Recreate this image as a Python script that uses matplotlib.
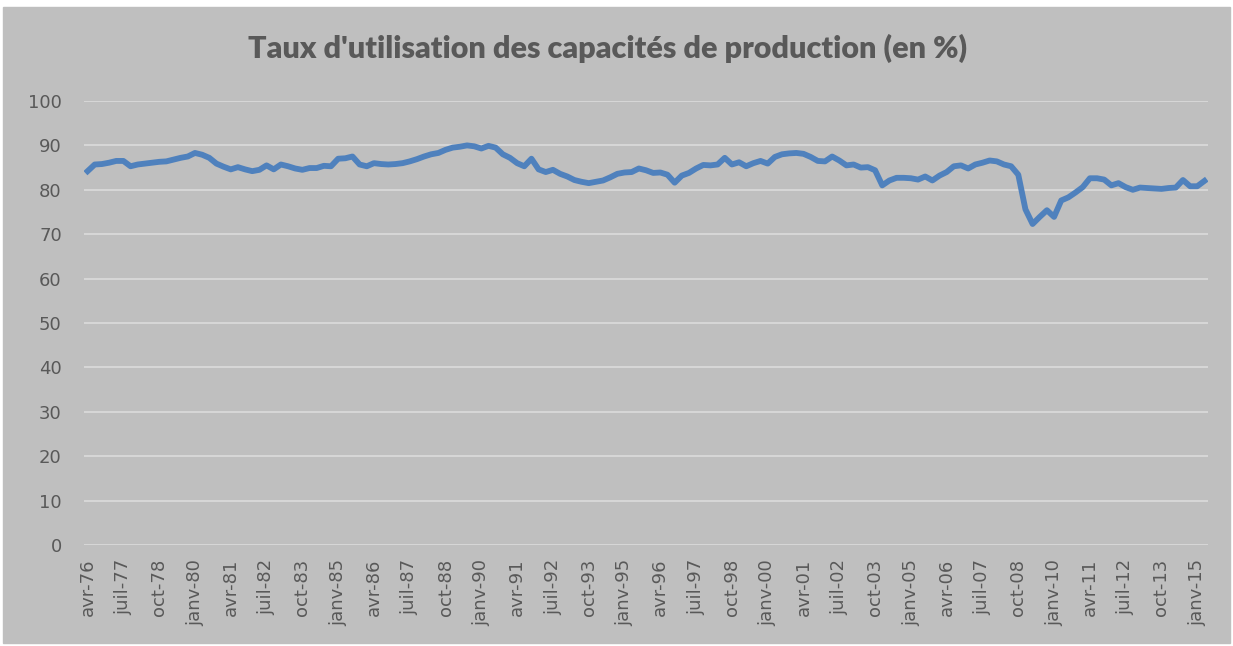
import matplotlib
matplotlib.use("Agg")
import matplotlib.pyplot as plt
from matplotlib.patches import Rectangle

# taux d'utilisation des capacites, trimestriel avr-76 -> avr-15
tick_labels = ["avr-76", "juil-77", "oct-78", "janv-80", "avr-81", "juil-82", "oct-83", "janv-85",
               "avr-86", "juil-87", "oct-88", "janv-90", "avr-91", "juil-92", "oct-93", "janv-95",
               "avr-96", "juil-97", "oct-98", "janv-00", "avr-01", "juil-02", "oct-03", "janv-05",
               "avr-06", "juil-07", "oct-08", "janv-10", "avr-11", "juil-12", "oct-13", "janv-15"]

taux = [84.2, 85.7, 85.8, 86.1, 86.5, 86.5, 85.3, 85.7, 85.9, 86.1,
        86.3, 86.4, 86.8, 87.2, 87.5, 88.3, 87.9, 87.2, 85.9, 85.2,
        84.6, 85.1, 84.6, 84.2, 84.5, 85.5, 84.6, 85.7, 85.3, 84.8,
        84.5, 84.9, 84.9, 85.4, 85.3, 87.0, 87.1, 87.5, 85.7, 85.3,
        86.0, 85.8, 85.7, 85.8, 86.0, 86.4, 86.9, 87.5, 88.0, 88.3,
        89.0, 89.5, 89.7, 90.0, 89.8, 89.3, 89.9, 89.5, 88.0, 87.2,
        86.0, 85.3, 87.0, 84.6, 84.0, 84.5, 83.6, 83.0, 82.2, 81.8,
        81.5, 81.8, 82.1, 82.8, 83.6, 83.9, 84.0, 84.8, 84.4, 83.8,
        83.9, 83.4, 81.6, 83.2, 83.8, 84.8, 85.6, 85.5, 85.7, 87.2,
        85.7, 86.2, 85.3, 86.0, 86.5, 85.9, 87.4, 88.0, 88.2, 88.3,
        88.1, 87.4, 86.5, 86.4, 87.5, 86.6, 85.5, 85.7, 85.0, 85.1,
        84.4, 81.0, 82.1, 82.7, 82.7, 82.6, 82.3, 83.0, 82.1, 83.2,
        84.0, 85.3, 85.5, 84.8, 85.7, 86.1, 86.6, 86.4, 85.7, 85.3,
        83.4, 75.6, 72.3, 73.9, 75.4, 73.9, 77.6, 78.3, 79.4, 80.6,
        82.6, 82.6, 82.3, 81.0, 81.5, 80.6, 80.0, 80.5, 80.4, 80.3,
        80.2, 80.4, 80.5, 82.2, 80.8, 80.8, 82.0]

W, H = 1233, 646
fig = plt.figure(figsize=(W / 100, H / 100), dpi=100)
fig.patch.set_facecolor("white")
fig.patches.append(Rectangle((3 / W, 3 / H), 1227 / W, 636 / H, transform=fig.transFigure,
                             facecolor="#BFBFBF", edgecolor="#BFBFBF", zorder=-10))

ax = fig.add_axes([84 / W, 1 - 545 / H, (1208 - 84) / W, (545 - 101) / H])
ax.set_facecolor("#BFBFBF")

x = list(range(len(taux)))
ax.plot(x, taux, color="#4F81BD", linewidth=4.2, solid_joinstyle="round", zorder=3)

ax.set_xlim(-0.5, len(taux) - 0.5)
ax.set_ylim(0, 100)
ax.set_yticks(range(0, 101, 10))
ax.set_xticks(range(0, len(taux), 5))
ax.set_xticklabels(tick_labels, rotation=90)

ax.grid(axis="y", color="#D9D9D9", linewidth=1.3)
ax.set_axisbelow(True)
for s in ax.spines.values():
    s.set_visible(False)
ax.tick_params(axis="both", length=0, colors="#595959", labelsize=13)
ax.tick_params(axis="x", pad=10)
ax.tick_params(axis="y", pad=16)

fig.text(608 / W, 1 - 48 / H, "Taux d'utilisation des capacités de production (en %)",
         ha="center", va="center", fontsize=22, fontweight="heavy", color="#595959",
         family="Lato")

fig.savefig("out.png", dpi=100, facecolor=fig.get_facecolor())
